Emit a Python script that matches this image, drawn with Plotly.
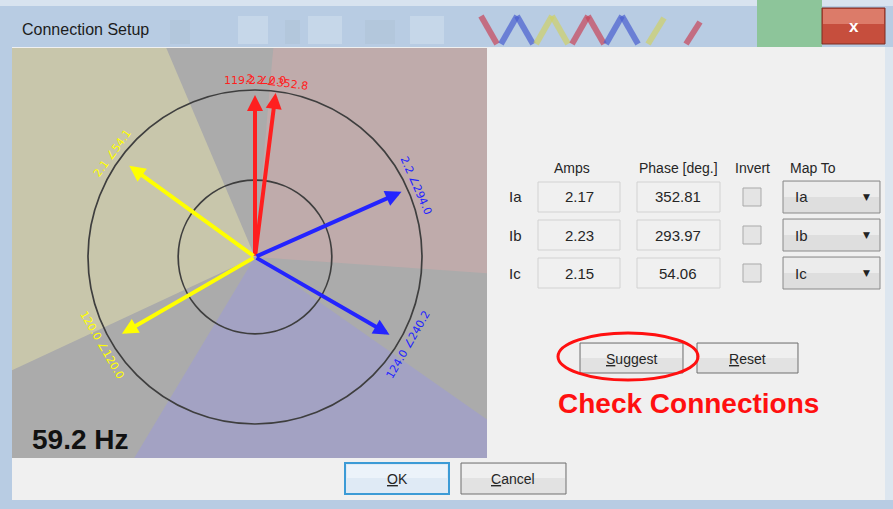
import numpy as np
import plotly.graph_objects as go

W, H = 893, 509

# table values (right panel)
rows = ["Ia", "Ib", "Ic"]
amps = ["2.17", "2.23", "2.15"]
phase_deg = ["352.81", "293.97", "54.06"]
map_to = ["Ia", "Ib", "Ic"]
freq_text = "59.2 Hz"

# phasors drawn in the diagram: reference set + measured currents
vec_phase = [0.0, 120.0, 240.0, 352.81, 293.97, 54.06]      # deg
vec_len = [0.97, 0.92, 0.93, 0.99, 0.96, 0.93]              # fraction of outer ring
vec_color = ["#ff1f1f", "#ffff00", "#2424ff", "#ff1f1f", "#2424ff", "#ffff00"]
vec_label = ["119.2 ∠0.0", "120.0 ∠120.0", "124.0 ∠240.2",
             "2.2 ∠352.8", "2.2 ∠294.0", "2.1 ∠54.1"]

# background wedges (display angle, deg counter-clockwise from +x)
sector_from = [-4, 113, 239]
sector_to = [85, 205, 325]
sector_color = ["#bfabab", "#c8c6ab", "#a3a2c3"]

ring_radius = [1.0, 0.46]

# pixel layout of the phasor panel
px_l, px_r, px_t, px_b = 12, 487, 48, 458
cx, cy, R = 255, 257, 167

fig = go.Figure()

for a0, a1, col in zip(sector_from, sector_to, sector_color):
    t = np.radians(np.linspace(a0, a1, 40))
    fig.add_trace(go.Scatter(
        x=np.concatenate([[0], 3 * np.cos(t), [0]]),
        y=np.concatenate([[0], 3 * np.sin(t), [0]]),
        fill="toself", fillcolor=col, mode="lines", line=dict(width=0),
        hoverinfo="skip", showlegend=False))

shapes = []
annotations = []

for r in ring_radius:
    shapes.append(dict(type="circle", xref="x", yref="y", x0=-r, x1=r, y0=-r, y1=r,
                       line=dict(color="#3e3e3e", width=1.7), layer="above"))

for ph, ln, col, lab in zip(vec_phase, vec_len, vec_color, vec_label):
    ang = np.radians(ph + 90)
    annotations.append(dict(
        x=ln * np.cos(ang), y=ln * np.sin(ang), ax=0, ay=0,
        xref="x", yref="y", axref="x", ayref="y", text="", showarrow=True,
        arrowhead=2, arrowsize=0.8, arrowwidth=4, arrowcolor=col))
    # label tangent to the ring, kept readable
    ta = -ph
    ta = (ta + 180) % 360 - 180
    if ta > 90:
        ta -= 180
    if ta < -90:
        ta += 180
    annotations.append(dict(
        x=1.055 * np.cos(ang), y=1.055 * np.sin(ang), xref="x", yref="y",
        text=lab, showarrow=False, textangle=ta,
        font=dict(family="DejaVu Sans", size=11, color=col),
        xanchor="center", yanchor="middle"))


def rect(x0, y0, x1, y1, fill, line=None, lw=1, opacity=1):
    shapes.append(dict(type="rect", xref="paper", yref="paper",
                       x0=x0 / W, x1=x1 / W, y0=1 - y1 / H, y1=1 - y0 / H,
                       fillcolor=fill, opacity=opacity, layer="above",
                       line=dict(color=line if line else fill, width=lw if line else 0)))


def seg(x0, y0, x1, y1, col, w, opacity=1):
    shapes.append(dict(type="line", xref="paper", yref="paper",
                       x0=x0 / W, x1=x1 / W, y0=1 - y0 / H, y1=1 - y1 / H,
                       line=dict(color=col, width=w), opacity=opacity, layer="above"))


def text(x, y, s, size=14, color="#262626", anchor="center", bold=False,
         family="Liberation Sans"):
    annotations.append(dict(x=x / W, y=1 - y / H, xref="paper", yref="paper",
                            text="<b>%s</b>" % s if bold else s, showarrow=False,
                            xanchor=anchor, yanchor="middle",
                            font=dict(family=family, size=size, color=color)))


# window chrome
rect(0, 0, W, 47, "#b8cce3")
rect(0, 0, W, 6, "#d8e3ef")
for x0, x1 in [(238, 268), (308, 342), (410, 444)]:
    rect(x0, 16, x1, 44, "#d3e1f0", opacity=0.5)
for x0, x1 in [(170, 190), (285, 300), (365, 395)]:
    rect(x0, 20, x1, 44, "#a9bccf", opacity=0.35)
zig = [(481, 16, 497, 44, "#c8455a"),
       (501, 44, 517, 16, "#4a5fd0"), (517, 16, 533, 44, "#4a5fd0"),
       (536, 44, 552, 16, "#cfd16a"), (552, 16, 568, 44, "#cfd16a"),
       (572, 44, 588, 16, "#c8455a"), (588, 16, 604, 44, "#c8455a"),
       (606, 44, 622, 16, "#4a5fd0"), (622, 16, 638, 44, "#4a5fd0"),
       (648, 44, 664, 18, "#cfd16a"),
       (686, 44, 700, 22, "#c8455a")]
for x0, y0, x1, y1, c in zig:
    seg(x0, y0, x1, y1, c, 6, opacity=0.7)
rect(757, 0, 822, 47, "#8dc59a")
rect(822, 8, 885, 44, "#c64e3d", line="#7d2c22", lw=1)
rect(823, 9, 884, 24, "#dc7b69")
text(854, 26, "x", size=17, color="white", bold=True)
text(20, 30, "Connection Setup", size=16, color="#1c1c1c", anchor="left")

rect(0, 47, 12, H, "#b8cce3")
rect(0, 500, W, H, "#b8cce3")
rect(885, 47, W, 500, "#dde6ef")

# table
for x, s in [(572, "Amps"), (678, "Phase [deg.]"), (752, "Invert")]:
    text(x, 168, s, size=14)
text(788, 168, "Map To", size=14, anchor="left")
row_y = [197, 235, 273]
for yc, nm, a, p, m in zip(row_y, rows, amps, phase_deg, map_to):
    text(515, yc, nm, size=15)
    rect(538, yc - 15, 620, yc + 15, "#f0f0f0", line="#d2d2d2")
    text(579, yc, a, size=15)
    rect(637, yc - 15, 720, yc + 15, "#f0f0f0", line="#d2d2d2")
    text(678, yc, p, size=15)
    rect(743, yc - 9, 761, yc + 9, "#e4e4e4", line="#a9a9a9")
    rect(783, yc - 16, 880, yc + 16, "#dedede", line="#8a8a8a")
    rect(784, yc - 15, 879, yc, "#ececec")
    text(793, yc, m, size=15, anchor="left")
    text(866, yc, "▼", size=9, color="#222222", family="DejaVu Sans")

# buttons
for x0, x1, lab in [(580, 683, "<u>S</u>uggest"), (697, 798, "<u>R</u>eset")]:
    rect(x0, 343, x1, 373, "#e2e2e2", line="#707070")
    rect(x0 + 1, 344, x1 - 1, 358, "#efefef")
    text((x0 + x1) / 2, 359, lab, size=14)
shapes.append(dict(type="circle", xref="paper", yref="paper",
                   x0=558 / W, x1=698 / W, y0=1 - 380 / H, y1=1 - 333 / H,
                   line=dict(color="#ff1010", width=3), layer="above"))
text(688, 403, "Check Connections", size=28, color="#ff1010", bold=True)

rect(345, 463, 449, 494, "#dfeaf5", line="#3c9bd6", lw=2)
rect(347, 465, 447, 478, "#ecf3fa")
text(397, 479, "<u>O</u>K", size=14)
rect(461, 463, 566, 494, "#e2e2e2", line="#707070")
rect(462, 464, 565, 478, "#efefef")
text(513, 479, "<u>C</u>ancel", size=14)

text(30, 439, freq_text, size=28, color="#111111", anchor="left", bold=True)

fig.update_layout(
    width=W, height=H, autosize=False,
    margin=dict(l=0, r=0, t=0, b=0),
    paper_bgcolor="#f0f0f0", plot_bgcolor="#ababab",
    showlegend=False,
    xaxis=dict(domain=[px_l / W, px_r / W], range=[(px_l - cx) / R, (px_r - cx) / R],
               visible=False, fixedrange=True),
    yaxis=dict(domain=[1 - px_b / H, 1 - px_t / H], range=[(cy - px_b) / R, (cy - px_t) / R],
               visible=False, fixedrange=True),
    shapes=shapes, annotations=annotations)

fig.write_html("out.html", config={"displayModeBar": False},
               post_script="document.body.style.margin='0';document.body.style.overflow='hidden';")
